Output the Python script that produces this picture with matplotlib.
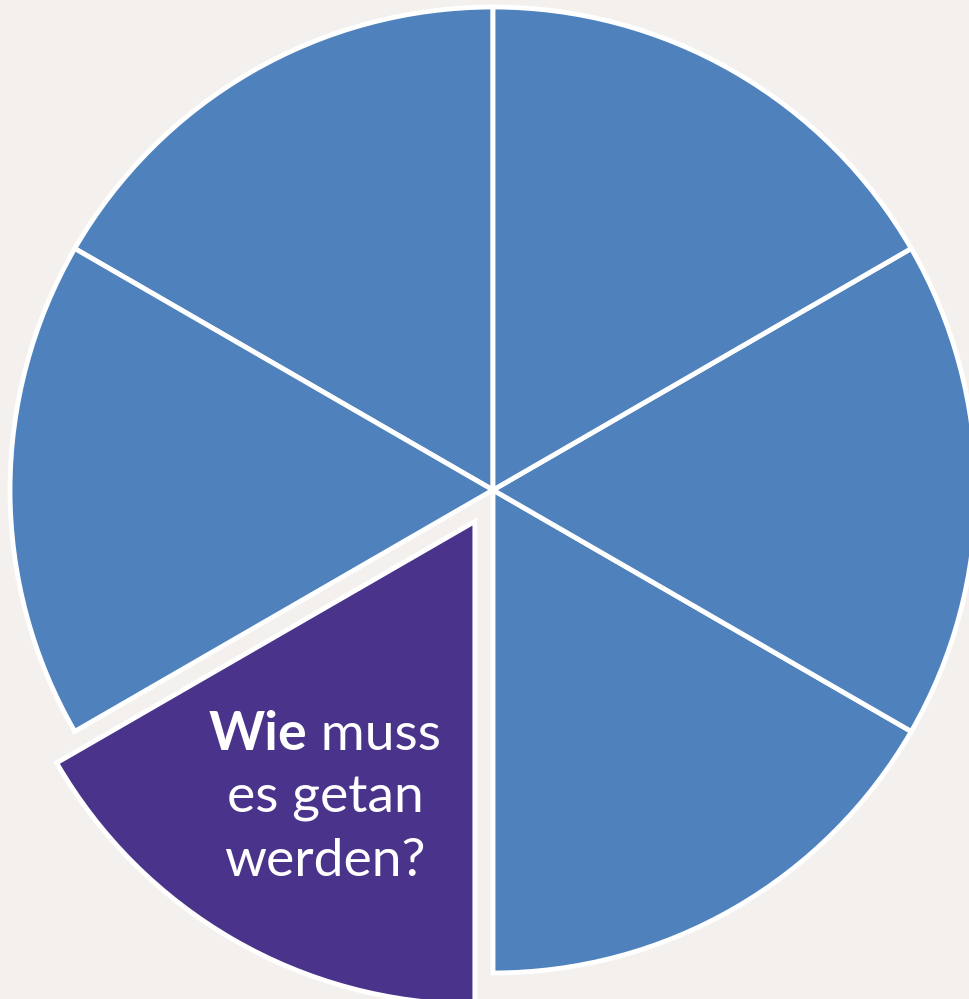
import matplotlib

matplotlib.use("Agg")
import matplotlib.pyplot as plt

# six equal segments, the third one (bottom-left) is highlighted and pulled out
shares = [1, 1, 1, 1, 1, 1]
colors = ["#4F81BD", "#4F81BD", "#4A348B", "#4F81BD", "#4F81BD", "#4F81BD"]
explode = [0, 0, 0.075, 0, 0, 0]
label_bold = "Wie"
label_rest = " muss"
label_lines = ["es getan", "werden?"]

BG = "#F3F0ED"
W, H, DPI = 969, 999, 100
CX, CY, R = 493, 490, 483  # pie centre/radius in pixels


def px(x, y):
    return (x - CX) / R, (CY - y) / R


fig = plt.figure(figsize=(W / DPI, H / DPI), dpi=DPI, facecolor=BG)
ax = fig.add_axes([0, 0, 1, 1])
ax.set_facecolor(BG)
ax.pie(
    shares,
    colors=colors,
    explode=explode,
    startangle=90,
    counterclock=True,
    radius=1.0,
    wedgeprops={"edgecolor": "white", "linewidth": 3.5},
)
x0, y1 = px(0, H)
x1, y0 = px(W, 0)
ax.set_xlim(x0, x1)
ax.set_ylim(y1, y0)
ax.set_aspect("equal")
ax.axis("off")

font = dict(family="Lato", size=38.5, color="white", va="baseline")
renderer = fig.canvas.get_renderer()

# first line: bold word + regular rest, centred as a whole
cx, base1 = px(325, 750)
t1 = ax.text(cx, base1, label_bold, fontweight="bold", ha="left", **font)
t2 = ax.text(cx, base1, label_rest, ha="left", **font)
w1 = t1.get_window_extent(renderer).width / R
w2 = t2.get_window_extent(renderer).width / R
left = cx - (w1 + w2) / 2
t1.set_x(left)
t2.set_x(left + w1)

for i, line in enumerate(label_lines):
    _, yb = px(325, 750 + 63 * (i + 1))
    ax.text(cx, yb, line, ha="center", **font)

fig.savefig("out.png", dpi=DPI, facecolor=BG)
